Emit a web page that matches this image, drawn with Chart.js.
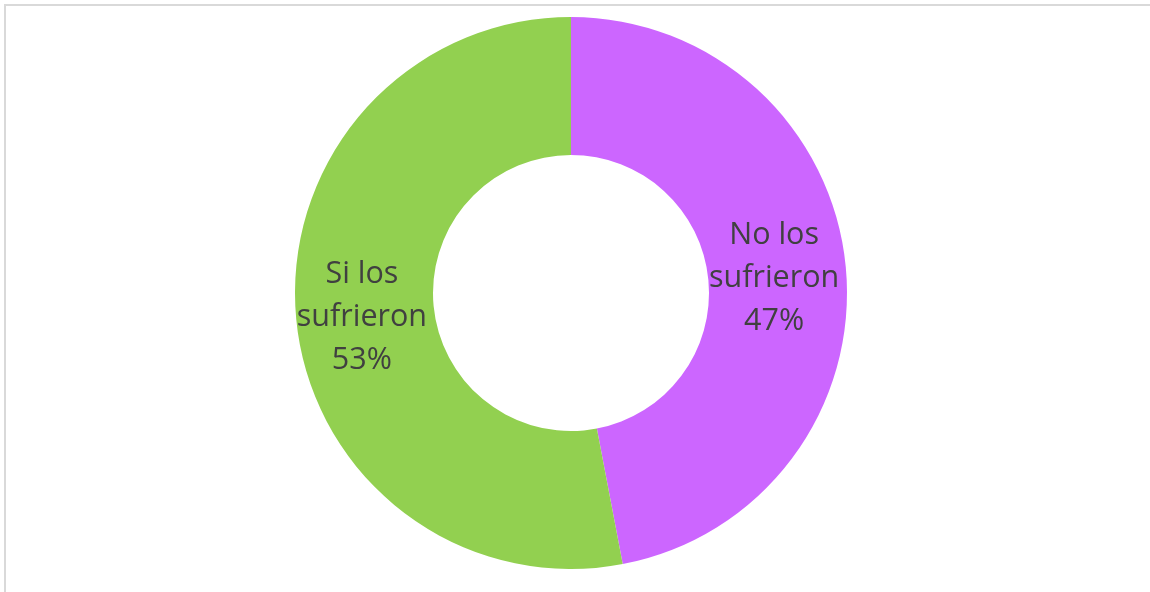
<!DOCTYPE html>
<html>
<head>
<meta charset="utf-8">
<script src="https://cdn.jsdelivr.net/npm/chart.js@4.4.0/dist/chart.umd.min.js"></script>
<style>
  html, body { margin: 0; padding: 0; background: #fff; overflow: hidden; }
  #frame { position: absolute; left: 4px; top: 4px; width: 1160px; height: 600px;
           border-top: 2px solid #d9d9d9; border-left: 2px solid #d9d9d9; }
  #wrap { position: absolute; left: 0; top: 0; width: 1150px; height: 592px; }
</style>
</head>
<body>
<div id="frame"></div>
<div id="wrap"><canvas id="chart"></canvas></div>
<script>
// datos del gráfico
const categorias = ["No los sufrieron", "Si los sufrieron"];
const etiquetas = [["No los", "sufrieron"], ["Si los", "sufrieron"]];
const valores = [47, 53];
const colores = ["#CC66FF", "#92D050"];

// etiquetas dentro de cada porción
const etiquetasPlugin = {
  id: "etiquetas",
  afterDatasetsDraw(chart) {
    const ctx = chart.ctx;
    const meta = chart.getDatasetMeta(0);
    ctx.save();
    ctx.fillStyle = "#404040";
    ctx.font = "30.5px 'Open Sans', 'Liberation Sans', sans-serif";
    ctx.textAlign = "center";
    ctx.textBaseline = "middle";
    meta.data.forEach((arc, i) => {
      const pos = arc.tooltipPosition();
      const lineas = etiquetas[i].concat([valores[i] + "%"]);
      const alto = 43;
      lineas.forEach((txt, j) => {
        ctx.fillText(txt, pos.x - 3, pos.y + (j - 1) * alto + 5);
      });
    });
    ctx.restore();
  }
};

new Chart(document.getElementById("chart"), {
  type: "doughnut",
  data: {
    labels: categorias,
    datasets: [{
      data: valores,
      backgroundColor: colores,
      borderWidth: 0
    }]
  },
  options: {
    responsive: true,
    maintainAspectRatio: false,
    animation: false,
    cutout: "50%",
    layout: { padding: { top: 17, bottom: 23, left: 0, right: 8 } },
    plugins: {
      legend: { display: false },
      tooltip: { enabled: false }
    }
  },
  plugins: [etiquetasPlugin]
});
</script>
</body>
</html>
